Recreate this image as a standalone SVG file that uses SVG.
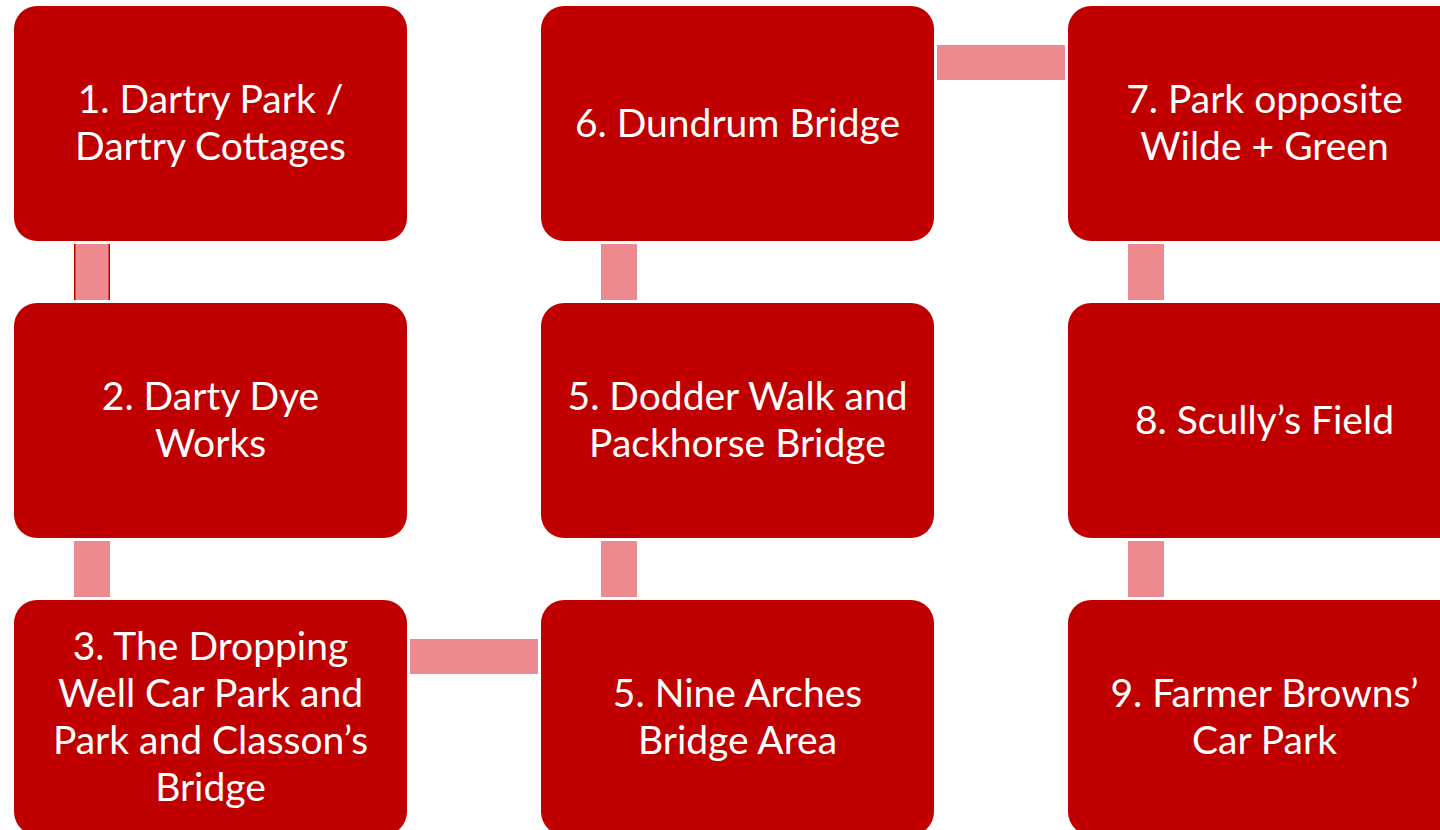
<svg xmlns="http://www.w3.org/2000/svg" width="1440" height="830" viewBox="0 0 1440 830">
<style>
.box{fill:#C00000;}
.con{fill:#EC8A90;}
.t{fill:#FFFFFF;font-family:Lato,"Open Sans","Liberation Sans",sans-serif;font-size:39px;text-anchor:middle;}
</style>
<rect width="1440" height="830" fill="#FFFFFF"/>
<g id="connectors">
<rect class="con" x="74" y="244" width="36" height="56"/>
<rect x="74" y="244" width="1.5" height="56" fill="#C00000"/>
<rect x="108.5" y="244" width="1.5" height="56" fill="#C00000"/>
<rect class="con" x="74" y="541" width="36" height="56"/>
<rect class="con" x="410" y="639" width="128" height="35"/>
<rect class="con" x="601" y="541" width="36" height="56"/>
<rect class="con" x="601" y="244" width="36" height="56"/>
<rect class="con" x="937" y="45" width="128" height="35"/>
<rect class="con" x="1128" y="244" width="36" height="56"/>
<rect class="con" x="1128" y="541" width="36" height="56"/>
</g>
<g id="node1"><rect class="box" x="14" y="6" width="393" height="235" rx="23"/>
<text class="t" x="210.5" y="113">1. Dartry Park /</text><text class="t" x="210.5" y="160">Dartry Cottages</text></g>
<g id="node2"><rect class="box" x="14" y="303" width="393" height="235" rx="23"/>
<text class="t" x="210.5" y="410">2. Darty Dye</text><text class="t" x="210.5" y="457">Works</text></g>
<g id="node3"><rect class="box" x="14" y="600" width="393" height="235" rx="23"/>
<text class="t" x="210.5" y="660">3. The Dropping</text><text class="t" x="210.5" y="707">Well Car Park and</text><text class="t" x="210.5" y="754">Park and Classon’s</text><text class="t" x="210.5" y="801">Bridge</text></g>
<g id="node4"><rect class="box" x="541" y="600" width="393" height="235" rx="23"/>
<text class="t" x="737.5" y="707">5. Nine Arches</text><text class="t" x="737.5" y="754">Bridge Area</text></g>
<g id="node5"><rect class="box" x="541" y="303" width="393" height="235" rx="23"/>
<text class="t" x="737.5" y="410">5. Dodder Walk and</text><text class="t" x="737.5" y="457">Packhorse Bridge</text></g>
<g id="node6"><rect class="box" x="541" y="6" width="393" height="235" rx="23"/>
<text class="t" x="737.5" y="137">6. Dundrum Bridge</text></g>
<g id="node7"><rect class="box" x="1068" y="6" width="393" height="235" rx="23"/>
<text class="t" x="1264.5" y="113">7. Park opposite</text><text class="t" x="1264.5" y="160">Wilde + Green</text></g>
<g id="node8"><rect class="box" x="1068" y="303" width="393" height="235" rx="23"/>
<text class="t" x="1264.5" y="434">8. Scully’s Field</text></g>
<g id="node9"><rect class="box" x="1068" y="600" width="393" height="235" rx="23"/>
<text class="t" x="1264.5" y="707">9. Farmer Browns’</text><text class="t" x="1264.5" y="754">Car Park</text></g>
</svg>
